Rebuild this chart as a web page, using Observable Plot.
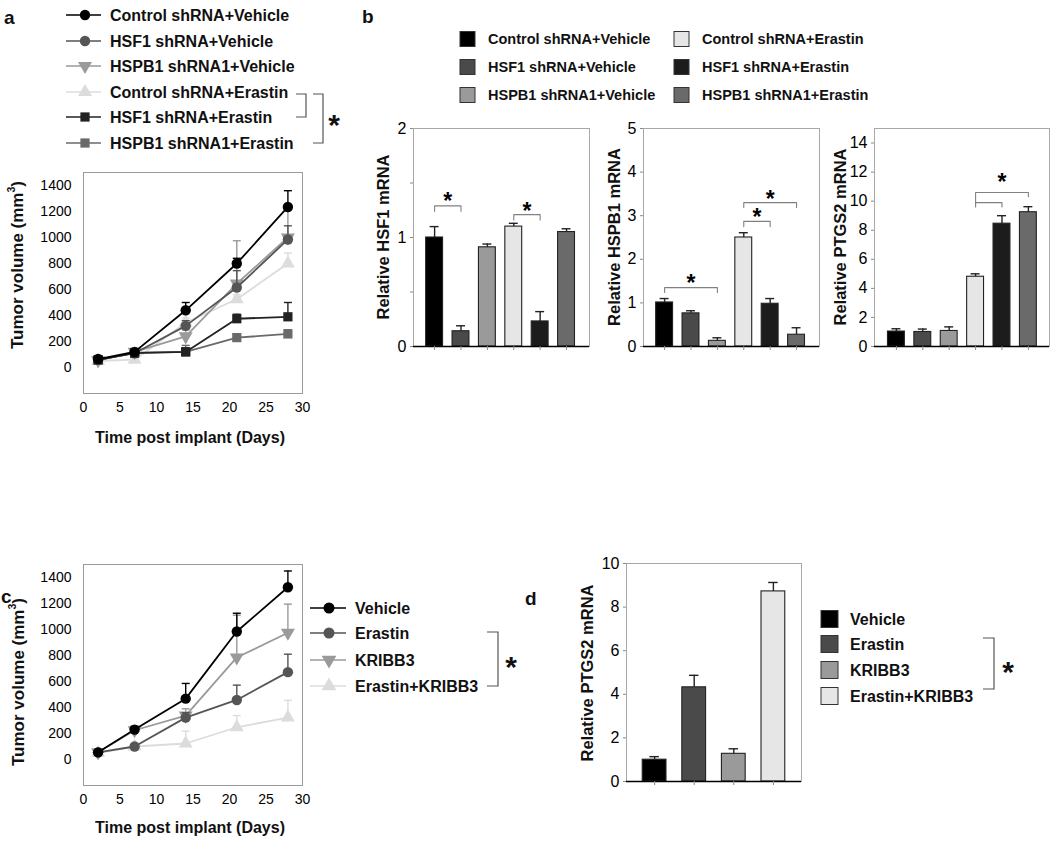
<!DOCTYPE html>
<html><head><meta charset="utf-8">
<script src="https://cdn.jsdelivr.net/npm/d3@7"></script>
<script src="https://cdn.jsdelivr.net/npm/@observablehq/plot@0.6"></script>
<style>
body{margin:0;background:#fff;}
#fig{position:relative;width:1050px;height:843px;overflow:hidden;font-family:"Liberation Sans",Arial,Helvetica,sans-serif;}
#overlay{position:absolute;left:0;top:0;pointer-events:none;}
</style></head><body><div id="fig"></div>
<script>
// ---------------- DATA ----------------
const days = [2, 7, 14, 21, 28];
const dayTicks = [0, 5, 10, 15, 20, 25, 30];
const volumeTicks = [0, 200, 400, 600, 800, 1000, 1200, 1400];

// Panel a (tumor volume, mm3)
const aNames = ["Control shRNA+Vehicle", "HSF1 shRNA+Vehicle", "HSPB1 shRNA1+Vehicle",
                "Control shRNA+Erastin", "HSF1 shRNA+Erastin", "HSPB1 shRNA1+Erastin"];
const aCtrlVeh  = [65, 120, 440, 800, 1235];
const aHSF1Veh  = [60, 110, 320, 615, 985];
const aHSPB1Veh = [55, 120, 240, 645, 1000];
const aCtrlEra  = [50, 60, 345, 525, 800];
const aHSF1Era  = [60, 110, 120, 375, 390];
const aHSPB1Era = [55, 115, 120, 230, 258];
const aCtrlVehUp  = [80, 140, 500, 840, 1360];
const aHSF1VehUp  = [70, 130, 360, 745, 1090];
const aHSPB1VehUp = [65, 140, 290, 975, 1210];
const aCtrlEraUp  = [60, 80, 380, 560, 880];
const aHSF1EraUp  = [70, 130, 150, 410, 500];
const aHSPB1EraUp = [65, 135, 170, 260, 290];

// Panel b (relative mRNA)
const bGroups = ["Control shRNA+Vehicle", "HSF1 shRNA+Vehicle", "HSPB1 shRNA1+Vehicle",
                 "Control shRNA+Erastin", "HSF1 shRNA+Erastin", "HSPB1 shRNA1+Erastin"];
const bHSF1    = [1.00, 0.14, 0.91, 1.10, 0.23, 1.05];
const bHSF1Up  = [1.10, 0.19, 0.94, 1.13, 0.32, 1.08];
const bHSPB1   = [1.01, 0.76, 0.13, 2.50, 0.98, 0.27];
const bHSPB1Up = [1.10, 0.82, 0.20, 2.61, 1.10, 0.43];
const bPTGS2   = [1.03, 1.00, 1.07, 4.80, 8.45, 9.24];
const bPTGS2Up = [1.22, 1.20, 1.35, 5.00, 9.00, 9.62];
const bHSF1Ticks  = [0, 0.5, 1, 1.5, 2];
const bHSPB1Ticks = [0, 1, 2, 3, 4, 5];
const bPTGS2Ticks = [0, 2, 4, 6, 8, 10, 12, 14];
// significance brackets: [from bar, to bar, top, left end, right end]
const bHSF1Sig  = [[0, 1, 1.29, 1.24, 1.24], [3, 4, 1.21, 1.16, 1.16]];
const bHSPB1Sig = [[0, 2, 1.35, 1.24, 1.24], [3, 4, 2.87, 2.75, 2.75], [3, 5, 3.30, 3.19, 3.19]];
const bPTGS2Sig = [[3, 5, 10.6, 9.6, 10.3], [3, 4, 9.9, 9.9, 9.6]];
// stars: [x position in bar units, value]
const bHSF1Stars  = [[0.5, 1.38], [3.5, 1.29]];
const bHSPB1Stars = [[1, 1.58], [3.5, 3.10], [4, 3.51]];
const bPTGS2Stars = [[4, 11.7]];

// Panel c (tumor volume, mm3)
const cNames = ["Vehicle", "Erastin", "KRIBB3", "Erastin+KRIBB3"];
const cVehicle = [55, 230, 468, 985, 1325];
const cErastin = [55, 100, 322, 458, 672];
const cKRIBB3  = [55, 225, 338, 785, 975];
const cCombo   = [50, 100, 123, 248, 323];
const cVehicleUp = [65, 255, 585, 1125, 1450];
const cErastinUp = [65, 115, 360, 572, 810];
const cKRIBB3Up  = [65, 250, 390, 1110, 1195];
const cComboUp   = [60, 115, 218, 338, 455];

// Panel d (relative PTGS2 mRNA)
const dGroups = ["Vehicle", "Erastin", "KRIBB3", "Erastin+KRIBB3"];
const dPTGS2   = [1.00, 4.32, 1.27, 8.72];
const dPTGS2Up = [1.14, 4.87, 1.50, 9.13];
const dTicks = [0, 2, 4, 6, 8, 10];

// ---------------- STYLE ----------------
const FONT = "'Liberation Sans', Arial, Helvetica, sans-serif";
const fig = document.getElementById("fig");
const tri = Math.sqrt(3);
const triangleDown = {draw(ctx, size) {
  const y = -Math.sqrt(size / (tri * 3));
  ctx.moveTo(0, -y * 2); ctx.lineTo(-tri * y, y); ctx.lineTo(tri * y, y); ctx.closePath();
}};
const capSymbol = {draw(ctx, size) {
  const w = Math.sqrt(size / Math.PI);
  ctx.moveTo(-w, 0); ctx.lineTo(w, 0);
}};
const aColors = ["#000000", "#555555", "#9a9a9a", "#dcdcdc", "#222222", "#6a6a6a"];
const aSymbols = ["circle", "circle", triangleDown, "triangle", "square", "square"];
const cColors = ["#000000", "#555555", "#9a9a9a", "#dcdcdc"];
const cSymbols = ["circle", "circle", triangleDown, "triangle"];
const bColors = ["#000000", "#4a4a4a", "#9a9a9a", "#e6e6e6", "#1c1c1c", "#6a6a6a"];
const dColors = ["#000000", "#4a4a4a", "#9a9a9a", "#e6e6e6"];

function place(node, left, top) {
  node.style.position = "absolute";
  node.style.left = left + "px";
  node.style.top = top + "px";
  fig.appendChild(node);
}

function lineChart(names, means, uppers, colors, symbols, order, left, top) {
  const rows = [];
  names.forEach((s, si) => days.forEach((d, di) =>
    rows.push({series: s, si, day: d, v: means[si][di], up: uppers[si][di]})));
  const marks = [
    Plot.frame({stroke: "#9a9a9a"}),
    Plot.axisX({ticks: dayTicks, tickFormat: d => String(d), tickSize: 0, tickPadding: 9, label: null, fontSize: 14}),
    Plot.axisY({ticks: volumeTicks, tickFormat: d => String(d), tickSize: 0, tickPadding: 12, label: null, fontSize: 14})
  ];
  for (const si of order) {
    const data = rows.filter(r => r.si === si);
    marks.push(Plot.ruleX(data, {x: "day", y1: "v", y2: "up", stroke: colors[si], strokeWidth: 1.4}));
    marks.push(Plot.dot(data, {x: "day", y: "up", symbol: capSymbol, r: 4, stroke: colors[si], strokeWidth: 1.4, fill: "none"}));
    marks.push(Plot.line(data, {x: "day", y: "v", stroke: colors[si], strokeWidth: 1.8}));
    marks.push(Plot.dot(data, {x: "day", y: "v", symbol: symbols[si], r: 5.2, fill: colors[si], stroke: "none"}));
  }
  const p = Plot.plot({
    width: 320, height: 300, marginLeft: 83, marginRight: 18, marginTop: 12, marginBottom: 67,
    x: {domain: [0, 30]}, y: {domain: [-200, 1500]},
    style: {fontFamily: FONT, fontSize: "14px", color: "#000", background: "transparent"},
    marks
  });
  place(p, left, top);
}

function barChart(opt) {
  const n = opt.values.length;
  const rows = opt.values.map((v, i) => ({i, v, up: opt.uppers[i], c: opt.colors[i]}));
  const hw = opt.halfWidth, cw = opt.capWidth;
  const brk = [];
  (opt.sig || []).forEach((b, k) => {
    brk.push({k, x: b[0], y: b[3]}, {k, x: b[0], y: b[2]}, {k, x: b[1], y: b[2]}, {k, x: b[1], y: b[4]});
  });
  const stars = (opt.stars || []).map(s => ({x: s[0], y: s[1]}));
  const p = Plot.plot({
    width: opt.width, height: 260, marginLeft: opt.mL, marginRight: opt.mR, marginTop: 18, marginBottom: 24,
    x: {domain: opt.xDomain}, y: {domain: opt.yDomain},
    color: {type: "identity"},
    style: {fontFamily: FONT, fontSize: "16px", color: "#000", background: "transparent"},
    marks: [
      Plot.frame({stroke: "#a8a8a8"}),
      Plot.rectY(rows, {x1: d => d.i - hw, x2: d => d.i + hw, y: "v", fill: "c", stroke: "#222", strokeWidth: 1.1}),
      Plot.ruleX(rows, {x: "i", y1: "v", y2: "up", stroke: "#222", strokeWidth: 1.4}),
      Plot.ruleY(rows, {x1: d => d.i - cw, x2: d => d.i + cw, y: "up", stroke: "#222", strokeWidth: 1.4}),
      Plot.ruleY([0], {stroke: "#000", strokeWidth: 1.4}),
      Plot.axisX({ticks: d3.range(n), tickFormat: () => "", tickSize: 4, stroke: "#888", label: null}),
      Plot.axisY({ticks: opt.ticks, tickFormat: opt.tickFormat, tickSize: 3, tickPadding: 4, stroke: "#888", fill: "#000", label: null, fontSize: 16}),
      Plot.line(brk, {x: "x", y: "y", z: "k", stroke: "#808080", strokeWidth: 1.1}),
      Plot.text(stars, {x: "x", y: "y", text: () => "*", fontSize: 23, fontWeight: "bold", fill: "#000", dy: 6})
    ]
  });
  place(p, opt.left, opt.top);
}

// Panel a chart
lineChart(aNames,
  [aCtrlVeh, aHSF1Veh, aHSPB1Veh, aCtrlEra, aHSF1Era, aHSPB1Era],
  [aCtrlVehUp, aHSF1VehUp, aHSPB1VehUp, aCtrlEraUp, aHSF1EraUp, aHSPB1EraUp],
  aColors, aSymbols, [3, 2, 5, 1, 4, 0], 0, 160);

// Panel c chart
lineChart(cNames,
  [cVehicle, cErastin, cKRIBB3, cCombo],
  [cVehicleUp, cErastinUp, cKRIBB3Up, cComboUp],
  cColors, cSymbols, [3, 2, 1, 0], 0, 552);

// Panel b charts
barChart({values: bHSF1, uppers: bHSF1Up, colors: bColors, yDomain: [0, 2], ticks: bHSF1Ticks,
  tickFormat: d => Number.isInteger(d) ? String(d) : "", sig: bHSF1Sig, stars: bHSF1Stars,
  xDomain: [-0.8, 5.87], halfWidth: 0.32, capWidth: 0.17, left: 360, top: 110, width: 240, mL: 53, mR: 11});
barChart({values: bHSPB1, uppers: bHSPB1Up, colors: bColors, yDomain: [0, 5], ticks: bHSPB1Ticks,
  tickFormat: d => String(d), sig: bHSPB1Sig, stars: bHSPB1Stars,
  xDomain: [-0.8, 5.87], halfWidth: 0.32, capWidth: 0.17, left: 590, top: 110, width: 240, mL: 53, mR: 11});
barChart({values: bPTGS2, uppers: bPTGS2Up, colors: bColors, yDomain: [0, 15], ticks: bPTGS2Ticks,
  tickFormat: d => String(d), sig: bPTGS2Sig, stars: bPTGS2Stars,
  xDomain: [-0.83, 5.8], halfWidth: 0.32, capWidth: 0.17, left: 820, top: 110, width: 230, mL: 54, mR: 1});

// Panel d chart
barChart({values: dPTGS2, uppers: dPTGS2Up, colors: dColors, yDomain: [0, 10], ticks: dTicks,
  tickFormat: d => String(d), xDomain: [-0.71, 3.71], halfWidth: 0.3, capWidth: 0.12,
  left: 560, top: 545, width: 260, mL: 66, mR: 19});

// ---------------- OVERLAY (labels, legends, titles) ----------------
const svg = d3.select(fig).append("svg").attr("id", "overlay")
  .attr("width", 1050).attr("height", 843).style("font-family", FONT);

function text(x, y, s, size, weight = "bold", anchor = "start") {
  return svg.append("text").attr("x", x).attr("y", y).attr("font-size", size)
    .attr("font-weight", weight).attr("text-anchor", anchor)
    .attr("dominant-baseline", "central").attr("fill", "#111").text(s);
}
function vtitle(cx, cy, s, size, sup) {
  const t = svg.append("text").attr("transform", `translate(${cx},${cy}) rotate(-90)`)
    .attr("font-size", size).attr("font-weight", "bold").attr("text-anchor", "middle")
    .attr("dominant-baseline", "central").attr("fill", "#111");
  if (sup) {
    t.append("tspan").text(s);
    t.append("tspan").attr("font-size", size * 0.62).attr("dy", -6).text(sup);
    t.append("tspan").attr("dy", 6).text(")");
  } else t.text(s);
}
function bracket(xl, xr, y1, y2) {
  svg.append("path").attr("d", `M${xl},${y1}H${xr}V${y2}H${xl}`)
    .attr("fill", "none").attr("stroke", "#555").attr("stroke-width", 1.2);
}
function star(x, y, size) {
  svg.append("text").attr("x", x).attr("y", y + size * 0.57).attr("font-size", size)
    .attr("font-weight", "bold").attr("text-anchor", "middle").attr("fill", "#111").text("*");
}
function symPath(sym, r) {
  const size = Math.PI * r * r;
  const type = sym === "circle" ? d3.symbolCircle : sym === "square" ? d3.symbolSquare
    : sym === "triangle" ? d3.symbolTriangle : sym;
  return d3.symbol().type(type).size(size)();
}

// panel labels
text(4, 17, "a", 19);
text(362, 16, "b", 19);
text(1, 596, "c", 19);
text(525, 598, "d", 19);

// panel a legend
const aRowsY = [15, 41, 66, 92, 117, 143];
aNames.forEach((nm, i) => {
  const y = aRowsY[i];
  svg.append("line").attr("x1", 66).attr("x2", 101).attr("y1", y).attr("y2", y)
    .attr("stroke", aColors[i]).attr("stroke-width", 1.6);
  svg.append("path").attr("d", symPath(aSymbols[i], 5.2)).attr("transform", `translate(85,${y})`)
    .attr("fill", aColors[i]);
  text(110, y, nm, 16);
});
bracket(296, 306, 94, 117);
bracket(313, 323, 94, 143);
star(334, 118, 30);

// panel a/c axis titles
text(190, 437, "Time post implant (Days)", 16, "bold", "middle");
text(190, 827, "Time post implant (Days)", 16, "bold", "middle");
vtitle(17, 265, "Tumor volume (mm", 17, "3");
vtitle(18, 682, "Tumor volume (mm", 17, "3");

// panel b legend
const bLegX = [460, 674], bLegTextX = [488, 702], bRowsY = [39, 67, 95];
bGroups.forEach((nm, i) => {
  const col = i < 3 ? 0 : 1, y = bRowsY[i % 3];
  svg.append("rect").attr("x", bLegX[col]).attr("y", y - 7.5).attr("width", 15).attr("height", 15)
    .attr("fill", bColors[i]).attr("stroke", "#333").attr("stroke-width", 1);
  text(bLegTextX[col], y, nm, 14.5);
});
vtitle(383, 237, "Relative HSF1 mRNA", 16.5);
vtitle(614, 237, "Relative HSPB1 mRNA", 16.5);
vtitle(840, 237, "Relative PTGS2 mRNA", 16.5);

// panel c legend
const cRowsY = [608, 633, 660, 686];
cNames.forEach((nm, i) => {
  const y = cRowsY[i];
  svg.append("line").attr("x1", 310).attr("x2", 346).attr("y1", y).attr("y2", y)
    .attr("stroke", cColors[i]).attr("stroke-width", 1.6);
  svg.append("path").attr("d", symPath(cSymbols[i], 5.5)).attr("transform", `translate(329,${y})`)
    .attr("fill", cColors[i]);
  text(355, y, nm, 16);
});
bracket(487, 498, 632, 686);
star(511, 660, 30);

// panel d legend and title
vtitle(587, 673, "Relative PTGS2 mRNA", 16.5);
const dRowsY = [619, 644, 670, 696];
dGroups.forEach((nm, i) => {
  const y = dRowsY[i];
  svg.append("rect").attr("x", 821).attr("y", y - 8.5).attr("width", 17).attr("height", 17)
    .attr("fill", dColors[i]).attr("stroke", "#333").attr("stroke-width", 1);
  text(850, y, nm, 16);
});
bracket(983, 994, 638, 689);
star(1008, 665, 30);
</script>
</body></html>
